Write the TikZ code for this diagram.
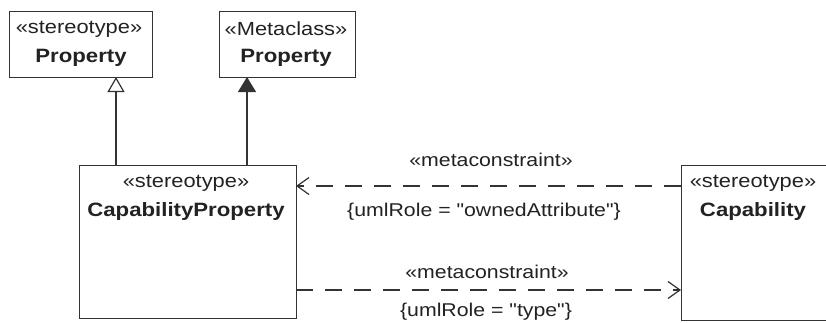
\documentclass[tikz,border=0pt]{standalone}
\usepackage{fontspec}
\setmainfont{Liberation Sans}[FakeStretch=1.15,Ligatures=TeXOff]
\usetikzlibrary{arrows.meta,calc}
\definecolor{ln}{HTML}{333333}
\definecolor{tx}{HTML}{222222}
\tikzset{
  box/.style={draw=ln,line width=1.4pt,anchor=north west,inner sep=0pt},
  st/.style={text=tx,font=\fontsize{19}{22}\selectfont,inner sep=0pt},
  nm/.style={text=tx,font=\fontsize{19.3}{22}\selectfont\bfseries,inner sep=0pt},
  lb/.style={text=tx,font=\fontsize{18.5}{21}\selectfont,inner sep=0pt},
  gen/.style={draw=ln,line width=1.2pt,-{Triangle[open,length=15pt,width=17pt]}},
  genf/.style={draw=ln,line width=1.2pt,-{Triangle[length=15pt,width=18pt]}},
  dep/.style={draw=ln,line width=1.2pt,dash pattern=on 17pt off 12pt,-{Straight Barb[length=12pt,width=17pt,line width=1.2pt]}}
}
\begin{document}
\begin{tikzpicture}[x=1pt,y=-1pt]
\useasboundingbox (0,0) rectangle (826,322);
\clip (0,0) rectangle (826,322);
\fill[white] (0,0) rectangle (826,322);
% boxes
\node[box,minimum width=143pt,minimum height=66pt] (b1) at (9,11) {};
\node[box,minimum width=136pt,minimum height=66pt] (b2) at (219,11) {};
\node[box,minimum width=217pt,minimum height=153pt] (b3) at (79,165) {};
\node[box,minimum width=150pt,minimum height=155pt] (b4) at (681,165) {};
% texts
\node[st] (t1a) at (79,29) {«stereotype»};
\node[nm] (t1b) at (81,58) {Property};
\node[st] (t2a) at (286,29) {«Metaclass»};
\node[nm] (t2b) at (286,58) {Property};
\node[st] (t3a) at (186,183) {«stereotype»};
\node[nm] (t3b) at (186,212) {CapabilityProperty};
\node[st] (t4a) at (753,183) {«stereotype»};
\node[nm] (t4b) at (753,212) {Capability};
% generalizations
\coordinate (g1s) at (116,165);
\coordinate (g1e) at (116,77);
\coordinate (g2s) at (247,165);
\coordinate (g2e) at (247,77);
\draw[gen] (g1s) -- (g1e);
\draw[genf] (g2s) -- (g2e);
% dependencies
\coordinate (d1s) at (681,186);
\coordinate (d1e) at (296,186);
\coordinate (d2s) at (296,290);
\coordinate (d2e) at (681,290);
\draw[dep] (d1s) -- (d1e);
\draw[dep] (d2s) -- (d2e);
\node[lb] (l1a) at (491,160) {«metaconstraint»};
\node[lb] (l1b) at (484,212) {\{umlRole = "ownedAttribute"\}};
\node[lb] (l2a) at (487,272) {«metaconstraint»};
\node[lb] (l2b) at (486,312) {\{umlRole = "type"\}};
\end{tikzpicture}
\end{document}
